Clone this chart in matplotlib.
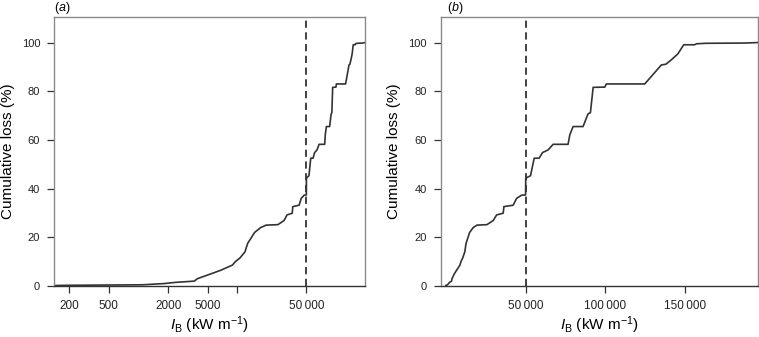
import numpy as np
import matplotlib
matplotlib.use('Agg')
import matplotlib.pyplot as plt

plt.rcParams['font.family'] = ['Liberation Sans', 'DejaVu Sans']
plt.rcParams['mathtext.fontset'] = 'custom'
plt.rcParams['mathtext.rm'] = 'Liberation Sans'
plt.rcParams['mathtext.it'] = 'Liberation Sans:italic'

# fireline intensity (kW/m) and cumulative loss (%)
intensity = [140, 213, 1100, 1820, 2390, 3670, 3950, 5420, 6840, 8940, 9550,
             10640, 11960, 12740, 14980, 17250, 19560, 25800, 29750, 31880,
             36000, 36440, 42250, 44380, 47500, 50000, 50100, 53100, 55400,
             58500, 60600, 64100, 67250, 76600, 77700, 79750, 86000, 89100,
             90600, 92300, 99600, 100600, 124600, 129800, 135000, 137800,
             141250, 145400, 149000, 155800, 157000, 163000, 187000, 195400]
cum_loss = [0.2, 0.3, 0.5, 1.0, 1.5, 2.0, 3.0, 5.0, 6.5, 8.6, 10.0,
            11.5, 14.0, 17.5, 22.0, 24.0, 25.0, 25.2, 26.9, 29.2,
            29.9, 32.6, 33.2, 36.0, 37.3, 37.4, 44.3, 45.3, 52.5,
            52.5, 54.8, 55.9, 58.2, 58.2, 62.1, 65.5, 65.5, 70.7,
            71.2, 81.6, 81.7, 83.0, 83.0, 86.9, 90.8, 91.1,
            92.9, 95.4, 99.1, 99.1, 99.5, 99.7, 99.8, 100.0]
threshold = 50000

ticks_a = [200, 500, 2000, 5000, 10000, 50000]
labels_a = ['200', '500', '2000', '5000', '', '50\u2009000']
ticks_b = [50000, 100000, 150000]
labels_b = ['50\u2009000', '100\u2009000', '150\u2009000']
yticks = [0, 20, 40, 60, 80, 100]

W, H = 759, 337
fig = plt.figure(figsize=(W / 100, H / 100), dpi=100)
ax1 = fig.add_axes([54 / W, 1 - 286 / H, (365 - 54) / W, (286 - 17) / H])
ax2 = fig.add_axes([440.7 / W, 1 - 286 / H, (758 - 440.7) / W, (286 - 17) / H])

line_col = '#333333'
for ax in (ax1, ax2):
    ax.plot(intensity, cum_loss, color=line_col, lw=1.2)
    ax.axvline(threshold, color=line_col, lw=1.3, ls=(0, (4, 2.5)))
    ax.set_ylim(0, 110.5)
    ax.set_yticks(yticks)
    ax.set_ylabel('Cumulative loss (%)', fontsize=11, labelpad=5)
    ax.set_xlabel(r'$I_{\mathrm{B}}$ (kW m$^{-1}$)', fontsize=11, labelpad=2)
    for s in ('left', 'top', 'right'):
        ax.spines[s].set_color('#8a8a8a')
        ax.spines[s].set_linewidth(1.0)
    ax.spines['bottom'].set_color('#333333')
    ax.spines['bottom'].set_linewidth(1.0)
    ax.tick_params(direction='out', length=5, width=0.9, color='#333333',
                   labelcolor='#222222')
    ax.tick_params(axis='x', labelsize=8.5, pad=5)
    ax.tick_params(axis='y', labelsize=8, pad=5)

ax1.set_xscale('log')
ax1.set_xlim(140, 196000)
ax1.set_xticks(ticks_a)
ax1.set_xticklabels(labels_a)
ax1.minorticks_off()

ax2.set_xlim(-3125, 195500)
ax2.set_xticks(ticks_b)
ax2.set_xticklabels(labels_b)

fig.text(54 / W, 1 - 8 / H, r'($\it{a}$)', fontsize=9, va='center', ha='left')
fig.text(447 / W, 1 - 8 / H, r'($\it{b}$)', fontsize=9, va='center', ha='left')

fig.savefig('out.png', dpi=100)
